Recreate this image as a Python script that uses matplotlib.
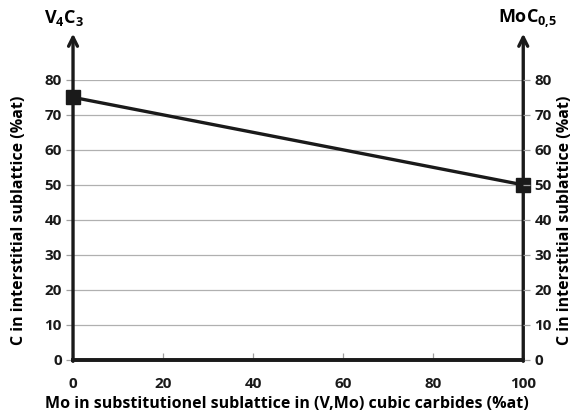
import matplotlib.pyplot as plt
import numpy as np

# composition end members
mo_content = [0, 100]
c_content = [75, 50]
x_ticks = [0, 20, 40, 60, 80, 100]
y_ticks = [0, 10, 20, 30, 40, 50, 60, 70, 80]

plt.rcParams['font.family'] = ['Open Sans', 'DejaVu Sans']
plt.rcParams['font.weight'] = 'bold'
plt.rcParams['mathtext.fontset'] = 'custom'
plt.rcParams['mathtext.rm'] = 'Open Sans:bold'
plt.rcParams['mathtext.it'] = 'Open Sans:bold'
plt.rcParams['mathtext.bf'] = 'Open Sans:bold'

fig = plt.figure(figsize=(5.75, 4.18), dpi=100)
ax = fig.add_axes([0.127, 0.139, 0.783, 0.670])
ax2 = ax.twinx()

ax.plot(mo_content, c_content, color='#1a1a1a', lw=2.4,
        marker='s', markersize=10, clip_on=False, zorder=5)

ax.set_xlim(0, 100)
ax.set_ylim(0, 80)
ax2.set_ylim(0, 80)
ax.set_xticks(x_ticks)
ax.set_yticks(y_ticks)
ax2.set_yticks(y_ticks)

ax.grid(axis='y', color='#b0b0b0', lw=0.9)
ax.set_axisbelow(True)

for a in (ax, ax2):
    for s in ('left', 'right', 'top'):
        a.spines[s].set_visible(False)
    a.spines['bottom'].set_linewidth(2.6)
    a.spines['bottom'].set_color('#1a1a1a')
    a.tick_params(axis='y', colors='#a0a0a0', length=5, width=0.9,
                  labelcolor='#1a1a1a', labelsize=11, pad=3)
ax.tick_params(axis='x', direction='in', colors='#a0a0a0', length=5,
               width=0.9, labelcolor='#1a1a1a', labelsize=11, pad=12)

# vertical axes drawn as arrows
for xa in (0, 1):
    ax.annotate('', xy=(xa, 1.165), xytext=(xa, -0.005),
                xycoords='axes fraction',
                arrowprops=dict(arrowstyle='->', lw=2.4, color='#1a1a1a',
                                mutation_scale=16, shrinkA=0, shrinkB=0))

ax.text(-0.02, 1.22, r'$\mathrm{V_4C_3}$', transform=ax.transAxes,
        ha='center', va='center', fontsize=13)
ax.text(1.01, 1.22, r'$\mathrm{MoC_{0{,}5}}$', transform=ax.transAxes,
        ha='center', va='center', fontsize=13)

ax.set_xlabel('Mo in substitutionel sublattice in (V,Mo) cubic carbides (%at)',
              fontsize=11.5, fontweight='bold')
ax.xaxis.set_label_coords(0.476, -0.13)
ax.set_ylabel('C in interstitial sublattice (%at)', fontsize=11.5,
              fontweight='bold')
ax.yaxis.set_label_coords(-0.102, 0.5)
ax2.set_ylabel('C in interstitial sublattice (%at)', fontsize=11.5,
               fontweight='bold')
ax2.yaxis.set_label_coords(1.076, 0.5)

fig.savefig('out.png', dpi=100)
